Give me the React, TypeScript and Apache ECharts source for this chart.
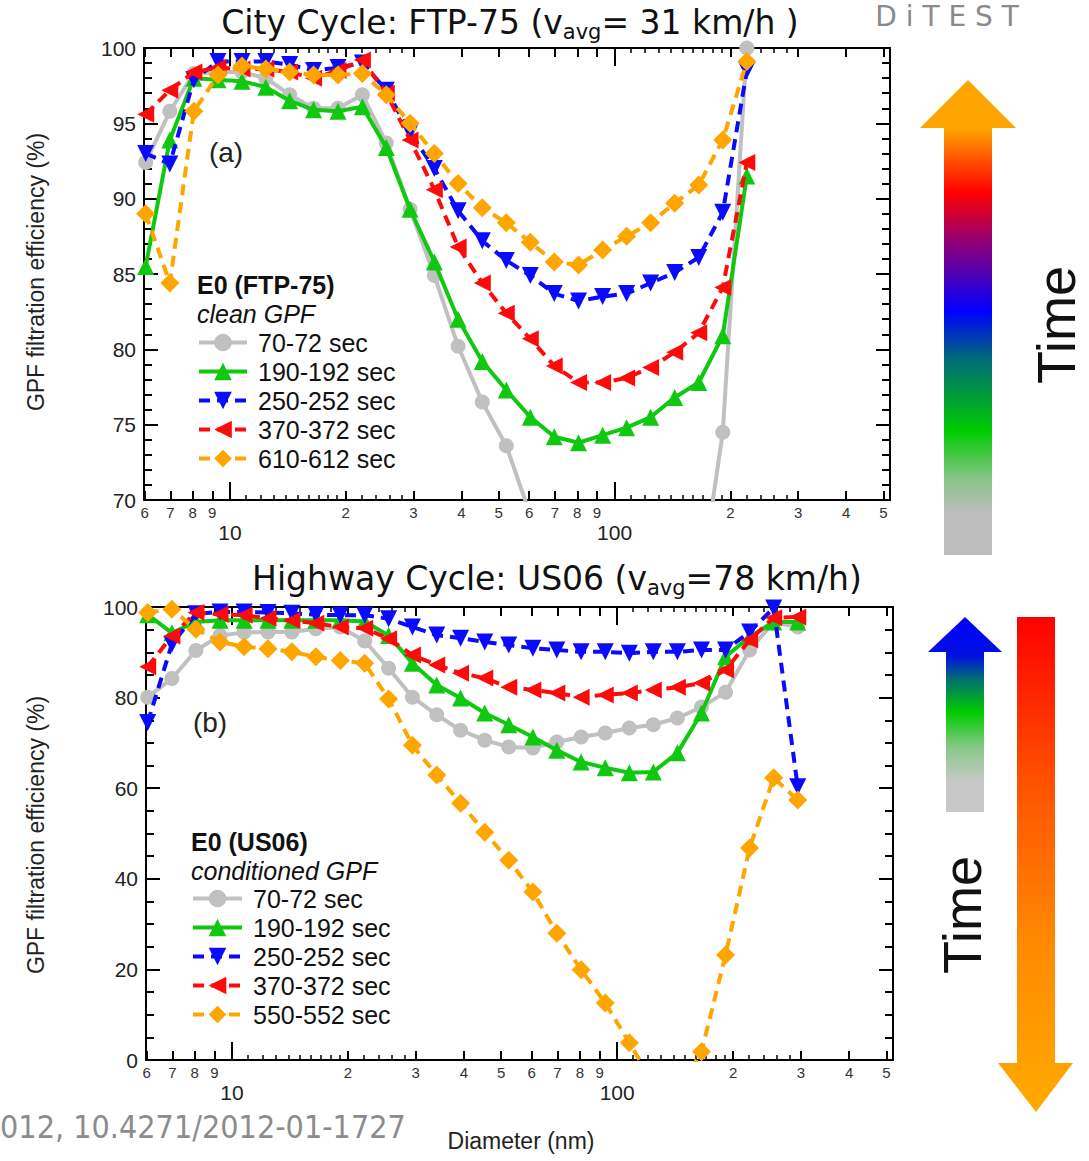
import React, { useEffect, useRef } from "react";
import * as echarts from "echarts";

// ---------- data ----------
const diameters = [6.04, 6.98, 8.06, 9.31, 10.75, 12.4, 14.3, 16.5, 19.1, 22.1, 25.5, 29.4, 34.0, 39.2, 45.3, 52.3, 60.4, 69.7, 80.6, 93.1, 107.5, 124.1, 143.3, 165.5, 191.1, 220.7, 254.8, 294.2];

const ftpNames = ["70-72 sec", "190-192 sec", "250-252 sec", "370-372 sec", "610-612 sec"];
const us06Names = ["70-72 sec", "190-192 sec", "250-252 sec", "370-372 sec", "550-552 sec"];

// City cycle FTP-75, clean GPF
const ftp70 = [92.4, 95.8, 98.3, 98.4, 98.4, 98.0, 96.9, 96.0, 96.0, 96.9, 93.7, 89.3, 84.9, 80.2, 76.5, 73.6, 69.0, 65.5, 63.0, 61.5, 61.0, 61.0, 61.5, 63.5, 74.5, 100.0];
const ftp190 = [85.5, 93.9, 98.0, 97.9, 97.8, 97.4, 96.5, 95.9, 95.8, 96.1, 93.4, 89.3, 85.8, 82.0, 79.2, 77.3, 75.5, 74.2, 73.8, 74.3, 74.8, 75.5, 76.8, 77.8, 80.9, 91.5];
const ftp250 = [93.0, 92.3, 97.9, 99.1, 99.1, 99.1, 98.9, 98.5, 98.7, 99.0, 97.2, 94.4, 92.0, 89.2, 87.2, 85.9, 84.9, 83.7, 83.2, 83.5, 83.7, 84.4, 85.1, 86.1, 89.1, 98.5];
const ftp370 = [95.6, 97.2, 98.4, 98.7, 98.6, 98.6, 98.4, 98.0, 98.5, 99.2, 97.0, 93.9, 90.6, 86.8, 84.4, 82.4, 80.7, 78.9, 77.8, 77.8, 78.1, 78.8, 79.8, 81.1, 84.1, 92.4];
const ftp610 = [89.0, 84.4, 95.8, 98.2, 98.8, 98.6, 98.4, 98.2, 98.2, 98.3, 96.9, 95.0, 93.0, 91.0, 89.4, 88.4, 87.1, 85.8, 85.6, 86.6, 87.5, 88.4, 89.7, 90.9, 93.9, 99.1];

// Highway cycle US06, conditioned GPF
const us70 = [80.1, 84.2, 90.4, 93.7, 94.4, 94.5, 94.5, 95.2, 95.6, 92.5, 86.5, 80.1, 76.2, 72.8, 70.6, 69.1, 68.9, 70.2, 71.3, 72.2, 73.3, 74.0, 75.5, 77.9, 81.2, 90.5, 96.7, 95.6];
const us190 = [98.3, 94.3, 96.7, 97.1, 97.1, 97.1, 97.1, 97.1, 97.1, 96.8, 93.7, 87.6, 82.8, 79.9, 76.6, 74.0, 71.3, 68.4, 65.8, 64.5, 63.4, 63.6, 67.8, 76.6, 89.0, 93.4, 96.7, 96.7];
const us250 = [74.5, 91.8, 98.5, 98.9, 98.9, 98.8, 98.6, 98.3, 98.2, 98.2, 97.4, 95.6, 93.8, 93.1, 92.3, 91.6, 90.9, 90.5, 90.1, 90.1, 89.8, 90.1, 90.1, 90.5, 90.5, 94.5, 99.8, 60.3];
const us370 = [86.8, 93.6, 98.8, 98.4, 98.2, 97.5, 97.0, 96.4, 95.6, 95.3, 93.0, 89.4, 87.2, 85.4, 84.3, 82.3, 81.7, 81.0, 80.1, 80.6, 81.0, 81.7, 82.3, 83.2, 86.1, 92.7, 97.6, 97.8];
const us550 = [98.8, 99.5, 95.1, 92.3, 91.2, 90.8, 90.1, 89.0, 88.2, 87.6, 79.7, 69.5, 62.9, 56.7, 50.3, 44.1, 37.1, 28.0, 19.9, 12.6, 3.8, -5.0, -7.0, 1.8, 23.2, 46.8, 62.3, 57.4];

// axis ticks (nm)
const labeledTicks = [6, 7, 8, 9, 20, 30, 40, 50, 60, 70, 80, 90, 200, 300, 400, 500];
const decadeTicks = [10, 100];
const minorTicks = [11, 12, 13, 14, 15, 16, 17, 18, 19, 22, 24, 26, 28, 110, 120, 130, 140, 150, 160, 170, 180, 190, 220, 240, 260, 280];

// ---------- styles ----------
const SANS = "'Liberation Sans', Arial, sans-serif";
const VERD = "'DejaVu Sans', Verdana, sans-serif";
const styleDefs = [
  { color: "#c0c0c0", symbol: "circle", size: 15, rotate: 0, dash: "solid" as any },
  { color: "#11c811", symbol: "triangle", size: 17, rotate: 0, dash: "solid" as any },
  { color: "#0a0aff", symbol: "triangle", size: 17, rotate: 180, dash: [11, 7] as any },
  { color: "#ff0a0a", symbol: "triangle", size: 17, rotate: 90, dash: [11, 7] as any },
  { color: "#ffa500", symbol: "diamond", size: 19, rotate: 0, dash: [11, 7] as any },
];

const pairs = (vals: number[]) => vals.map((v, i) => [diameters[i], v]);

function makeSeries(names: string[], data: number[][], xi: number, yi: number) {
  return data.map((vals, i) => {
    const s = styleDefs[i];
    return {
      type: "line",
      name: names[i],
      xAxisIndex: xi,
      yAxisIndex: yi,
      data: pairs(vals),
      clip: true,
      symbol: s.symbol,
      symbolSize: s.size,
      symbolRotate: s.rotate,
      showAllSymbol: true,
      lineStyle: { color: s.color, width: 4, type: s.dash },
      itemStyle: { color: s.color, borderWidth: 0 },
      z: 2 + i,
      emphasis: { disabled: true },
    };
  });
}

const digitFormatter = (v: number) => {
  const n = Math.round(v);
  if (n < 10) return String(n);
  if (n < 100) return String(Math.round(n / 10));
  return String(Math.round(n / 100));
};

function xAxesFor(grid: number) {
  const base = {
    type: "log",
    logBase: 10,
    min: 5.98,
    max: 520,
    gridIndex: grid,
    splitLine: { show: false },
    minorTick: { show: false },
    minorSplitLine: { show: false },
  };
  const tickLine = { color: "#000", width: 2 };
  const axes: any[] = [];
  for (const pos of ["bottom", "top"]) {
    const isBottom = pos === "bottom";
    axes.push({
      ...base,
      position: pos,
      axisLine: { show: true, lineStyle: { color: "#000", width: 2 } },
      axisTick: { show: true, inside: true, length: 9, customValues: labeledTicks, lineStyle: tickLine },
      axisLabel: isBottom
        ? { show: true, customValues: labeledTicks, formatter: digitFormatter, fontSize: 15, color: "#333", margin: 5, fontFamily: SANS }
        : { show: false },
    });
    axes.push({
      ...base,
      position: pos,
      axisLine: { show: false },
      axisTick: { show: true, inside: true, length: 18, customValues: decadeTicks, lineStyle: tickLine },
      axisLabel: isBottom
        ? { show: true, customValues: decadeTicks, formatter: (v: number) => String(Math.round(v)), fontSize: 21, color: "#222", margin: 22, fontFamily: SANS }
        : { show: false },
    });
    axes.push({
      ...base,
      position: pos,
      axisLine: { show: false },
      axisTick: { show: true, inside: true, length: 5, customValues: minorTicks, lineStyle: { color: "#000", width: 1.5 } },
      axisLabel: { show: false },
    });
  }
  return axes;
}

function yAxesFor(grid: number, min: number, max: number, interval: number, minorSplit: number) {
  const common = {
    type: "value",
    gridIndex: grid,
    min,
    max,
    interval,
    splitLine: { show: false },
    axisLine: { show: true, lineStyle: { color: "#000", width: 2 } },
    axisTick: { show: true, inside: true, length: 14, lineStyle: { color: "#000", width: 2 } },
    minorTick: { show: true, splitNumber: minorSplit, length: 8, lineStyle: { color: "#000", width: 2 } },
  };
  return [
    { ...common, position: "left", axisLabel: { show: true, fontSize: 21, color: "#222", margin: 8, fontFamily: SANS } },
    { ...common, position: "right", axisLabel: { show: false } },
  ];
}

function arrowUp(xl: number, xr: number, hl: number, hr: number, tip: number, base: number, bottom: number) {
  const cx = (hl + hr) / 2;
  return [[xl, base], [hl, base], [cx, tip], [hr, base], [xr, base], [xr, bottom], [xl, bottom]];
}

function titleText(x: number, y: number, pre: string, post: string) {
  return {
    type: "text", x, y,
    style: {
      text: `{a|${pre}}{s|avg}{a|${post}}`,
      align: "center", verticalAlign: "middle",
      rich: {
        a: { fontSize: 33, fontFamily: VERD, fill: "#111", lineHeight: 40 },
        s: { fontSize: 21, fontFamily: VERD, fill: "#111", lineHeight: 16, verticalAlign: "bottom" },
      },
    },
  };
}

export default function App() {
  const ref = useRef<HTMLDivElement>(null);
  useEffect(() => {
    document.body.style.margin = "0";
    const chart = echarts.init(ref.current!, null, { renderer: "svg" });

    const legendBase = {
      orient: "vertical",
      padding: 0,
      itemWidth: 48,
      itemHeight: 22,
      itemGap: 4,
      selectedMode: false,
      lineStyle: { width: 4 },
      textStyle: { fontSize: 25, fontFamily: SANS, color: "#111", lineHeight: 25, padding: [0, 0, 0, 6] },
    };

    const topArrow = arrowUp(944, 992, 920, 1016, 80, 128, 555);
    const smallArrow = arrowUp(946, 984, 928, 1002, 617, 652, 812);
    const downArrow = [[1017, 617], [1055, 617], [1055, 1063], [1073, 1063], [1036, 1112], [998, 1063], [1017, 1063]];

    const option: any = {
      animation: false,
      grid: [
        { left: 144, top: 48, width: 746, height: 452, outerBoundsMode: "none", containLabel: false },
        { left: 146, top: 607, width: 747, height: 453, outerBoundsMode: "none", containLabel: false },
      ],
      xAxis: [...xAxesFor(0), ...xAxesFor(1)],
      yAxis: [...yAxesFor(0, 70, 100, 5, 5), ...yAxesFor(1, 0, 100, 20, 4)],
      legend: [
        { ...legendBase, left: 197, top: 330, data: ftpNames },
        { ...legendBase, left: 191, top: 886, itemWidth: 49, data: us06Names },
      ],
      series: [
        ...makeSeries(ftpNames, [ftp70, ftp190, ftp250, ftp370, ftp610], 0, 0),
        ...makeSeries(us06Names, [us70, us190, us250, us370, us550], 6, 2),
      ],
      graphic: [
        titleText(510, 22, "City Cycle: FTP-75 (v", "= 31 km/h )"),
        titleText(557, 578, "Highway Cycle: US06 (v", "=78 km/h)"),
        {
          type: "text", x: 947, y: 16,
          style: { text: "D i T E S T", align: "center", verticalAlign: "middle", fontSize: 28, fontFamily: VERD, fill: "#8a8a8a" },
        },
        { type: "text", x: 226, y: 152, style: { text: "(a)", align: "center", verticalAlign: "middle", fontSize: 28, fontFamily: SANS, fill: "#222" } },
        { type: "text", x: 210, y: 722, style: { text: "(b)", align: "center", verticalAlign: "middle", fontSize: 28, fontFamily: SANS, fill: "#222" } },
        { type: "text", x: 197, y: 285, style: { text: "E0 (FTP-75)", verticalAlign: "middle", fontSize: 25, fontWeight: "bold", fontFamily: SANS, fill: "#111" } },
        { type: "text", x: 197, y: 314, style: { text: "clean GPF", verticalAlign: "middle", fontSize: 25, fontStyle: "italic", fontFamily: SANS, fill: "#111" } },
        { type: "text", x: 191, y: 842, style: { text: "E0 (US06)", verticalAlign: "middle", fontSize: 25, fontWeight: "bold", fontFamily: SANS, fill: "#111" } },
        { type: "text", x: 191, y: 871, style: { text: "conditioned GPF", verticalAlign: "middle", fontSize: 25, fontStyle: "italic", fontFamily: SANS, fill: "#111" } },
        { type: "text", x: 36, y: 272, rotation: Math.PI / 2, style: { text: "GPF filtration efficiency (%)", align: "center", verticalAlign: "middle", fontSize: 23, fontFamily: SANS, fill: "#222" } },
        { type: "text", x: 36, y: 835, rotation: Math.PI / 2, style: { text: "GPF filtration efficiency (%)", align: "center", verticalAlign: "middle", fontSize: 23, fontFamily: SANS, fill: "#222" } },
        { type: "text", x: 521, y: 1141, style: { text: "Diameter (nm)", align: "center", verticalAlign: "middle", fontSize: 23, fontFamily: SANS, fill: "#222" } },
        { type: "text", x: 0, y: 1127, style: { text: "012, 10.4271/2012-01-1727", align: "left", verticalAlign: "middle", fontSize: 32, fontFamily: "'Liberation Sans Narrow', 'DejaVu Sans Condensed', sans-serif", fill: "#8c8c8c" } },
        {
          type: "polygon", shape: { points: topArrow },
          style: {
            fill: new echarts.graphic.LinearGradient(0, 0, 0, 1, [
              { offset: 0, color: "#ffa500" }, { offset: 0.1, color: "#ffa500" },
              { offset: 0.236, color: "#ff0000" }, { offset: 0.335, color: "#990070" },
              { offset: 0.487, color: "#0000ff" }, { offset: 0.586, color: "#006a78" },
              { offset: 0.74, color: "#00cc00" }, { offset: 0.84, color: "#88c488" },
              { offset: 0.91, color: "#bdbdbd" }, { offset: 1, color: "#bdbdbd" },
            ]),
          },
        },
        { type: "text", x: 1056, y: 325, rotation: Math.PI / 2, style: { text: "Time", align: "center", verticalAlign: "middle", fontSize: 54, fontFamily: SANS, fill: "#111" } },
        {
          type: "polygon", shape: { points: smallArrow },
          style: {
            fill: new echarts.graphic.LinearGradient(0, 0, 0, 1, [
              { offset: 0, color: "#0000ff" }, { offset: 0.2, color: "#0010e0" },
              { offset: 0.32, color: "#007070" }, { offset: 0.49, color: "#00cc00" },
              { offset: 0.67, color: "#88c888" }, { offset: 0.85, color: "#c8c8c8" },
              { offset: 1, color: "#c8c8c8" },
            ]),
          },
        },
        {
          type: "polygon", shape: { points: downArrow },
          style: {
            fill: new echarts.graphic.LinearGradient(0, 0, 0, 1, [
              { offset: 0, color: "#ff0000" }, { offset: 0.35, color: "#ff5500" },
              { offset: 0.65, color: "#ff8800" }, { offset: 1, color: "#ffaa00" },
            ]),
          },
        },
        { type: "text", x: 962, y: 915, rotation: Math.PI / 2, style: { text: "Time", align: "center", verticalAlign: "middle", fontSize: 54, fontFamily: SANS, fill: "#111" } },
      ],
    };
    chart.setOption(option);
    return () => chart.dispose();
  }, []);
  return <div ref={ref} style={{ width: 1089, height: 1161 }} />;
}
